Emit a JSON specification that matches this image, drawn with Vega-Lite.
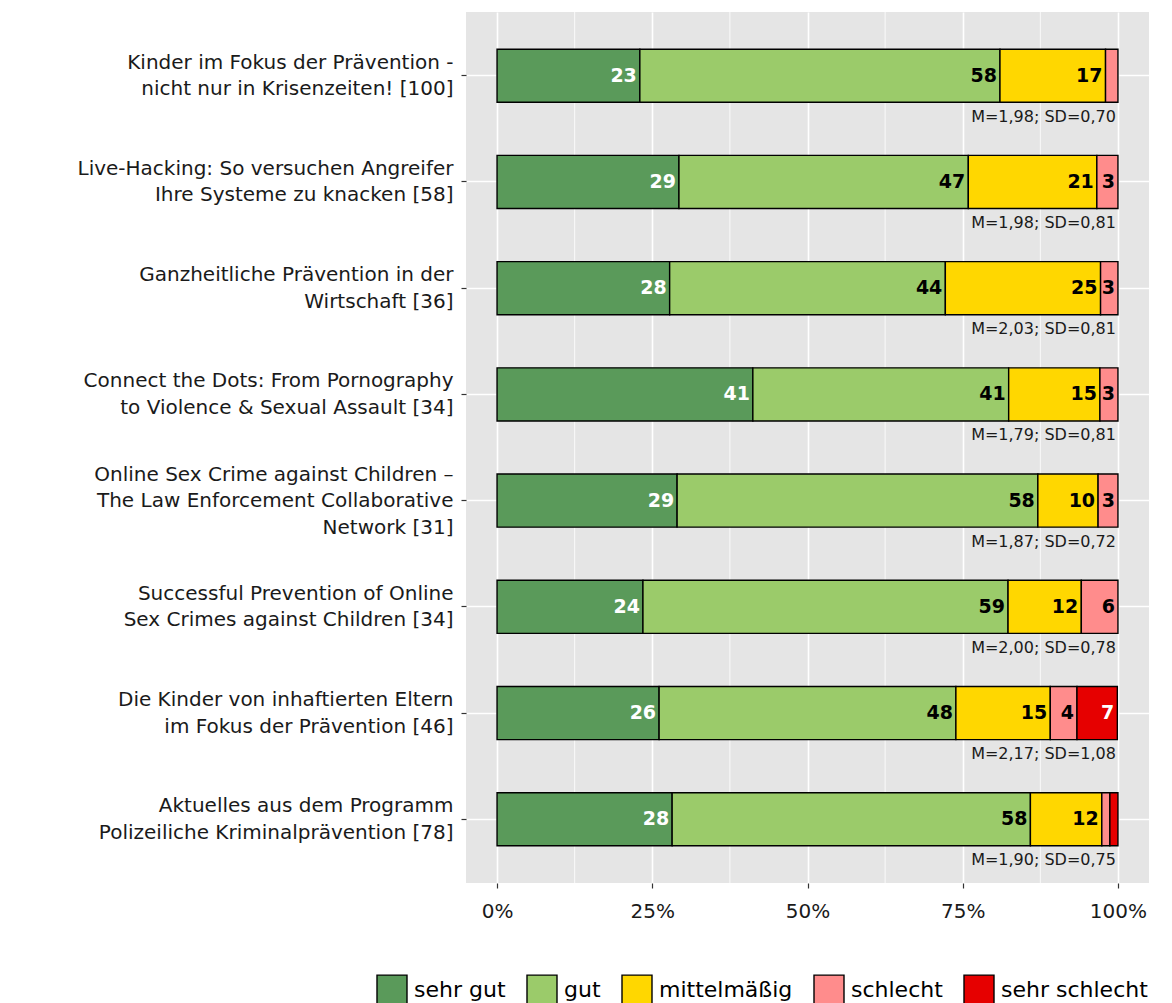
{
  "$schema": "https://vega.github.io/schema/vega-lite/v6.json",
  "width": 683,
  "height": 871,
  "autosize": {"type": "none"},
  "padding": {"left": 466, "top": 12, "right": 23, "bottom": 120},
  "background": "white",
  "config": {
    "view": {"fill": "#E5E5E5", "stroke": null},
    "font": "DejaVu Sans",
    "axis": {"labelFont": "DejaVu Sans", "labelColor": "#1a1a1a", "domain": false, "tickColor": "#333333", "tickSize": 5, "tickWidth": 1.2, "gridColor": "white", "gridWidth": 1.6}
  },
  "datasets": {
    "shares": [
      {"session": "Kinder im Fokus der Prävention -|nicht nur in Krisenzeiten! [100]", "cat": "sehr gut", "ord": 1, "value": 23},
      {"session": "Kinder im Fokus der Prävention -|nicht nur in Krisenzeiten! [100]", "cat": "gut", "ord": 2, "value": 58},
      {"session": "Kinder im Fokus der Prävention -|nicht nur in Krisenzeiten! [100]", "cat": "mittelmäßig", "ord": 3, "value": 17},
      {"session": "Kinder im Fokus der Prävention -|nicht nur in Krisenzeiten! [100]", "cat": "schlecht", "ord": 4, "value": 2},
      {"session": "Live-Hacking: So versuchen Angreifer|Ihre Systeme zu knacken [58]", "cat": "sehr gut", "ord": 1, "value": 29.3},
      {"session": "Live-Hacking: So versuchen Angreifer|Ihre Systeme zu knacken [58]", "cat": "gut", "ord": 2, "value": 46.6},
      {"session": "Live-Hacking: So versuchen Angreifer|Ihre Systeme zu knacken [58]", "cat": "mittelmäßig", "ord": 3, "value": 20.7},
      {"session": "Live-Hacking: So versuchen Angreifer|Ihre Systeme zu knacken [58]", "cat": "schlecht", "ord": 4, "value": 3.4},
      {"session": "Ganzheitliche Prävention in der|Wirtschaft [36]", "cat": "sehr gut", "ord": 1, "value": 27.8},
      {"session": "Ganzheitliche Prävention in der|Wirtschaft [36]", "cat": "gut", "ord": 2, "value": 44.4},
      {"session": "Ganzheitliche Prävention in der|Wirtschaft [36]", "cat": "mittelmäßig", "ord": 3, "value": 25.0},
      {"session": "Ganzheitliche Prävention in der|Wirtschaft [36]", "cat": "schlecht", "ord": 4, "value": 2.8},
      {"session": "Connect the Dots: From Pornography|to Violence & Sexual Assault [34]", "cat": "sehr gut", "ord": 1, "value": 41.2},
      {"session": "Connect the Dots: From Pornography|to Violence & Sexual Assault [34]", "cat": "gut", "ord": 2, "value": 41.2},
      {"session": "Connect the Dots: From Pornography|to Violence & Sexual Assault [34]", "cat": "mittelmäßig", "ord": 3, "value": 14.7},
      {"session": "Connect the Dots: From Pornography|to Violence & Sexual Assault [34]", "cat": "schlecht", "ord": 4, "value": 2.9},
      {"session": "Online Sex Crime against Children –|The Law Enforcement Collaborative|Network [31]", "cat": "sehr gut", "ord": 1, "value": 29.0},
      {"session": "Online Sex Crime against Children –|The Law Enforcement Collaborative|Network [31]", "cat": "gut", "ord": 2, "value": 58.1},
      {"session": "Online Sex Crime against Children –|The Law Enforcement Collaborative|Network [31]", "cat": "mittelmäßig", "ord": 3, "value": 9.7},
      {"session": "Online Sex Crime against Children –|The Law Enforcement Collaborative|Network [31]", "cat": "schlecht", "ord": 4, "value": 3.2},
      {"session": "Successful Prevention of Online|Sex Crimes against Children [34]", "cat": "sehr gut", "ord": 1, "value": 23.5},
      {"session": "Successful Prevention of Online|Sex Crimes against Children [34]", "cat": "gut", "ord": 2, "value": 58.8},
      {"session": "Successful Prevention of Online|Sex Crimes against Children [34]", "cat": "mittelmäßig", "ord": 3, "value": 11.8},
      {"session": "Successful Prevention of Online|Sex Crimes against Children [34]", "cat": "schlecht", "ord": 4, "value": 5.9},
      {"session": "Die Kinder von inhaftierten Eltern|im Fokus der Prävention [46]", "cat": "sehr gut", "ord": 1, "value": 26.1},
      {"session": "Die Kinder von inhaftierten Eltern|im Fokus der Prävention [46]", "cat": "gut", "ord": 2, "value": 47.8},
      {"session": "Die Kinder von inhaftierten Eltern|im Fokus der Prävention [46]", "cat": "mittelmäßig", "ord": 3, "value": 15.2},
      {"session": "Die Kinder von inhaftierten Eltern|im Fokus der Prävention [46]", "cat": "schlecht", "ord": 4, "value": 4.3},
      {"session": "Die Kinder von inhaftierten Eltern|im Fokus der Prävention [46]", "cat": "sehr schlecht", "ord": 5, "value": 6.5},
      {"session": "Aktuelles aus dem Programm|Polizeiliche Kriminalprävention [78]", "cat": "sehr gut", "ord": 1, "value": 28.2},
      {"session": "Aktuelles aus dem Programm|Polizeiliche Kriminalprävention [78]", "cat": "gut", "ord": 2, "value": 57.7},
      {"session": "Aktuelles aus dem Programm|Polizeiliche Kriminalprävention [78]", "cat": "mittelmäßig", "ord": 3, "value": 11.5},
      {"session": "Aktuelles aus dem Programm|Polizeiliche Kriminalprävention [78]", "cat": "schlecht", "ord": 4, "value": 1.3},
      {"session": "Aktuelles aus dem Programm|Polizeiliche Kriminalprävention [78]", "cat": "sehr schlecht", "ord": 5, "value": 1.3}
    ],
    "stats": [
      {"session": "Kinder im Fokus der Prävention -|nicht nur in Krisenzeiten! [100]", "pos": 100, "stat": "M=1,98; SD=0,70"},
      {"session": "Live-Hacking: So versuchen Angreifer|Ihre Systeme zu knacken [58]", "pos": 100, "stat": "M=1,98; SD=0,81"},
      {"session": "Ganzheitliche Prävention in der|Wirtschaft [36]", "pos": 100, "stat": "M=2,03; SD=0,81"},
      {"session": "Connect the Dots: From Pornography|to Violence & Sexual Assault [34]", "pos": 100, "stat": "M=1,79; SD=0,81"},
      {"session": "Online Sex Crime against Children –|The Law Enforcement Collaborative|Network [31]", "pos": 100, "stat": "M=1,87; SD=0,72"},
      {"session": "Successful Prevention of Online|Sex Crimes against Children [34]", "pos": 100, "stat": "M=2,00; SD=0,78"},
      {"session": "Die Kinder von inhaftierten Eltern|im Fokus der Prävention [46]", "pos": 100, "stat": "M=2,17; SD=1,08"},
      {"session": "Aktuelles aus dem Programm|Polizeiliche Kriminalprävention [78]", "pos": 100, "stat": "M=1,90; SD=0,75"}
    ],
    "minor": [{"g": 12.5}, {"g": 37.5}, {"g": 62.5}, {"g": 87.5}]
  },
  "layer": [
    {
      "data": {"name": "minor"},
      "mark": {"type": "rule", "color": "white", "strokeWidth": 0.8},
      "encoding": {
        "x": {"field": "g", "type": "quantitative", "scale": {"domain": [-5, 105], "nice": false, "zero": false}}
      }
    },
    {
      "data": {"name": "shares"},
      "transform": [
        {"stack": "value", "groupby": ["session"], "sort": [{"field": "ord", "order": "ascending"}], "as": ["v0", "v1"]}
      ],
      "layer": [
        {
          "mark": {"type": "bar", "stroke": "black", "strokeWidth": 1.4},
          "encoding": {
            "y": {"field": "session", "type": "nominal", "sort": null, "title": null,
                  "scale": {"paddingInner": 0.5, "paddingOuter": 0.35},
                  "axis": {"labelExpr": "split(datum.label, '|')", "labelFontSize": 20, "labelLineHeight": 26.5, "labelPadding": 8, "grid": true, "labelLimit": 0,
                           "labelOffset": {"condition": {"test": "indexof(datum.label, 'Network') >= 0", "value": -26}, "value": -13}}},
            "x": {"field": "v0", "type": "quantitative", "title": null,
                  "scale": {"domain": [-5, 105], "nice": false, "zero": false},
                  "axis": {"values": [0, 25, 50, 75, 100], "labelExpr": "datum.value + '%'", "labelFontSize": 20, "labelPadding": 13, "grid": true, "labelFlush": false}},
            "x2": {"field": "v1"},
            "color": {"field": "cat", "type": "nominal", "title": null,
                      "scale": {"domain": ["sehr gut", "gut", "mittelmäßig", "schlecht", "sehr schlecht"],
                                "range": ["#5A9A5A", "#9BCB6A", "#FFD700", "#FF8C8C", "#E60000"]},
                      "legend": {"orient": "none", "legendX": -90, "legendY": 962, "direction": "horizontal",
                                 "symbolType": "square", "symbolSize": 900, "symbolStrokeColor": "black", "symbolStrokeWidth": 1.4,
                                 "labelFontSize": 22, "labelFont": "DejaVu Sans", "labelColor": "black", "labelOffset": 6, "columnPadding": 18}}
          }
        },
        {
          "transform": [{"filter": "datum.value >= 2.5"}],
          "mark": {"type": "text", "align": "right", "baseline": "middle", "dx": -3, "fontSize": 19, "fontWeight": "bold", "font": "DejaVu Sans"},
          "encoding": {
            "y": {"field": "session", "type": "nominal", "sort": null},
            "x": {"field": "v1", "type": "quantitative"},
            "text": {"field": "value", "type": "quantitative", "format": ".0f"},
            "color": {"condition": {"test": "datum.cat == 'sehr gut' || datum.cat == 'sehr schlecht'", "value": "white"}, "value": "black"}
          }
        }
      ]
    },
    {
      "data": {"name": "stats"},
      "mark": {"type": "text", "align": "right", "baseline": "middle", "dy": 41, "dx": -2, "fontSize": 16, "color": "#1a1a1a", "font": "DejaVu Sans"},
      "encoding": {
        "y": {"field": "session", "type": "nominal", "sort": null},
        "x": {"field": "pos", "type": "quantitative"},
        "text": {"field": "stat"}
      }
    }
  ]
}
